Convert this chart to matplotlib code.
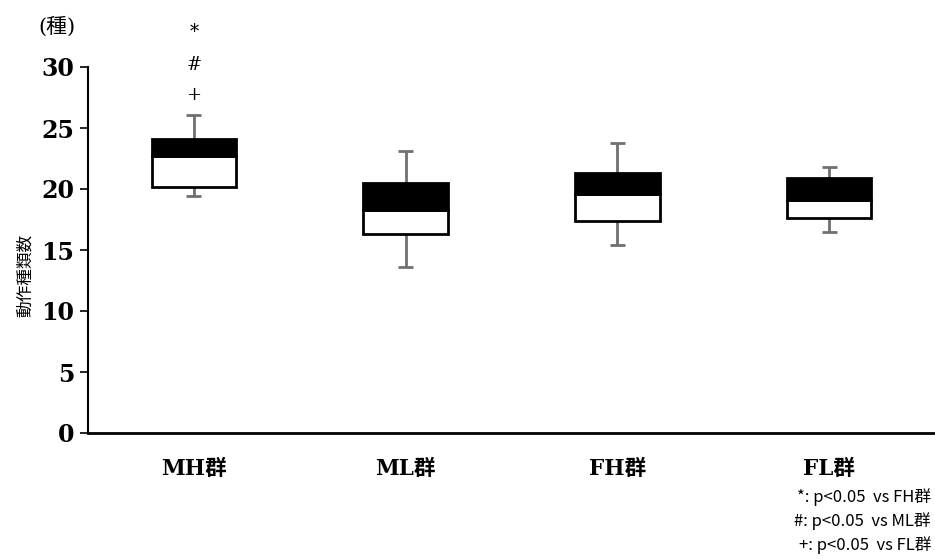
import matplotlib
matplotlib.use("Agg")
import matplotlib.pyplot as plt

categories = ["MH群", "ML群", "FH群", "FL群"]
whisker_low = [19.4, 13.6, 15.4, 16.45]
q1 = [20.2, 16.3, 17.4, 17.6]
median = [22.7, 18.3, 19.6, 19.1]
q3 = [24.1, 20.5, 21.3, 20.9]
whisker_high = [26.1, 23.1, 23.8, 21.8]
yticks = [0, 5, 10, 15, 20, 25, 30]
marks = ["*", "#", "+"]
mark_y = [32.9, 30.2, 27.7]
notes = ["*: p<0.05  vs FH群", "#: p<0.05  vs ML群", "+: p<0.05  vs FL群"]

serif = ["DejaVu Serif", "Noto Sans CJK JP"]
sans = ["Noto Sans CJK JP", "DejaVu Sans"]

fig = plt.figure(figsize=(9.35, 5.59), dpi=100)
ax = fig.add_axes([88/935, 1-433/559, 1-88/935, (433-67)/559])

x = list(range(len(categories)))
bw = 0.4
ax.bar(x, [m - a for m, a in zip(median, q1)], bottom=q1, width=bw,
       color="white", edgecolor="black", linewidth=2, zorder=3)
ax.bar(x, [b - m for b, m in zip(q3, median)], bottom=median, width=bw,
       color="black", edgecolor="black", linewidth=2, zorder=3)
ax.vlines(x, q3, whisker_high, color="#707070", linewidth=2, zorder=2)
ax.vlines(x, whisker_low, q1, color="#707070", linewidth=2, zorder=2)
cw = 0.035
ax.hlines(whisker_high, [i - cw for i in x], [i + cw for i in x], color="#707070", linewidth=2)
ax.hlines(whisker_low, [i - cw for i in x], [i + cw for i in x], color="#707070", linewidth=2)

for m, yy in zip(marks, mark_y):
    ax.text(0, yy, m, ha="center", va="center", fontsize=13, family=serif, clip_on=False)

ax.set_xlim(-0.5, 3.5)
ax.set_ylim(0, 30)
ax.set_yticks(yticks)
ax.set_yticklabels([str(t) for t in yticks], fontsize=17, fontweight="bold", family=serif)
ax.set_xticks(x)
ax.set_xticklabels(categories, fontsize=15.5, fontweight="bold", family=serif)
ax.tick_params(axis="x", length=0, pad=18)
ax.tick_params(axis="y", length=6, width=1.2, pad=4, direction="out")
for s in ["top", "right"]:
    ax.spines[s].set_visible(False)
ax.spines["left"].set_linewidth(1.5)
ax.spines["bottom"].set_linewidth(2)

fig.text(25/935, 1-275/559, "動作種類数", fontsize=12, family=sans, rotation=90,
         ha="center", va="center")
fig.text(38/935, 1-27/559, "(種)", fontsize=15, family=serif, ha="left", va="center")

for i, n in enumerate(notes):
    fig.text(931/935, 1-(497+24*i)/559, n, fontsize=12, family=sans, ha="right", va="center")

fig.savefig("out.png", dpi=100)
